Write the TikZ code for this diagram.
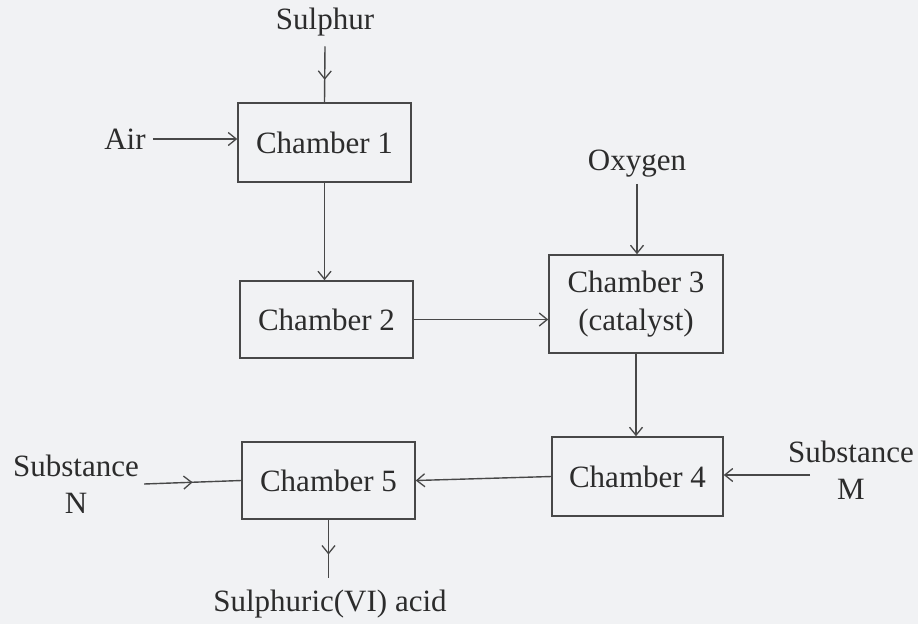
\documentclass[tikz,border=0pt]{standalone}
\usepackage{fontspec}
\setmainfont{Liberation Serif}
\usetikzlibrary{arrows.meta,decorations.markings}
\definecolor{bgc}{HTML}{F1F2F4}
\definecolor{inkc}{HTML}{2C2C2C}
\definecolor{linec}{HTML}{484848}
\begin{document}
\begin{tikzpicture}[x=1pt,y=-1pt,
  every node/.style={text=inkc,font=\fontsize{31}{37}\selectfont},
  chamber/.style={draw=linec,line width=1.5pt,minimum width=#1,inner sep=0pt},
  lbl/.style={inner sep=3pt,align=center},
  conn/.style={draw=linec,line width=1.4pt},
  endarrow/.style={conn,-{Straight Barb[length=8pt,width=13pt,line width=1.3pt]}},
  midarrow/.style={conn,postaction={decorate},decoration={markings,
     mark=at position #1 with {\arrow[linec]{Straight Barb[length=8pt,width=13pt,line width=1.3pt]}}}}
]
\fill[bgc] (0,0) rectangle (918,624);
\useasboundingbox (0,0) rectangle (918,624);

\node[chamber=173pt,minimum height=79pt] (c1) at (324.5,142.5) {Chamber 1};
\node[chamber=173pt,minimum height=77pt] (c2) at (326.5,319.5) {Chamber 2};
\node[chamber=174pt,minimum height=98pt,align=center] (c3) at (636,304) {Chamber 3\\[1pt](catalyst)};
\node[chamber=171pt,minimum height=79pt] (c4) at (637.5,476.5) {Chamber 4};
\node[chamber=173pt,minimum height=77pt] (c5) at (328.5,480.5) {Chamber 5};

\node[lbl,inner sep=10pt] (sul) at (325,22) {Sulphur};
\node[lbl,inner sep=7pt] (air) at (125,139) {Air};
\node[lbl,inner sep=6pt] (oxy) at (637,164) {Oxygen};
\node[lbl,inner sep=5pt] (subN) at (76,484) {Substance\\N};
\node[lbl] (subM) at (851,470) {Substance\\M};
\coordinate (mstart) at (810,475);
\node[lbl,inner sep=12pt] (acid) at (330,604) {Sulphuric(VI) acid};

\draw[midarrow=0.6] (sul.south) -- (c1.north);
\draw[endarrow] (air.east) -- (air.east -| c1.west);
\draw[endarrow] (c1.south) -- (c1.south |- c2.north);
\draw[endarrow] (c2.east) -- (c2.east -| c3.west);
\draw[endarrow] (oxy.south) -- (oxy.south |- c3.north);
\draw[endarrow] (c3.south) -- (c3.south |- c4.north);
\draw[endarrow] (mstart) -- (mstart -| c4.east);
\draw[endarrow] (c4.west) -- (c5.east);
\draw[midarrow=0.5] (subN.east) -- (c5.west);
\draw[midarrow=0.6] (c5.south) -- (c5.south |- acid.north);
\end{tikzpicture}
\end{document}
